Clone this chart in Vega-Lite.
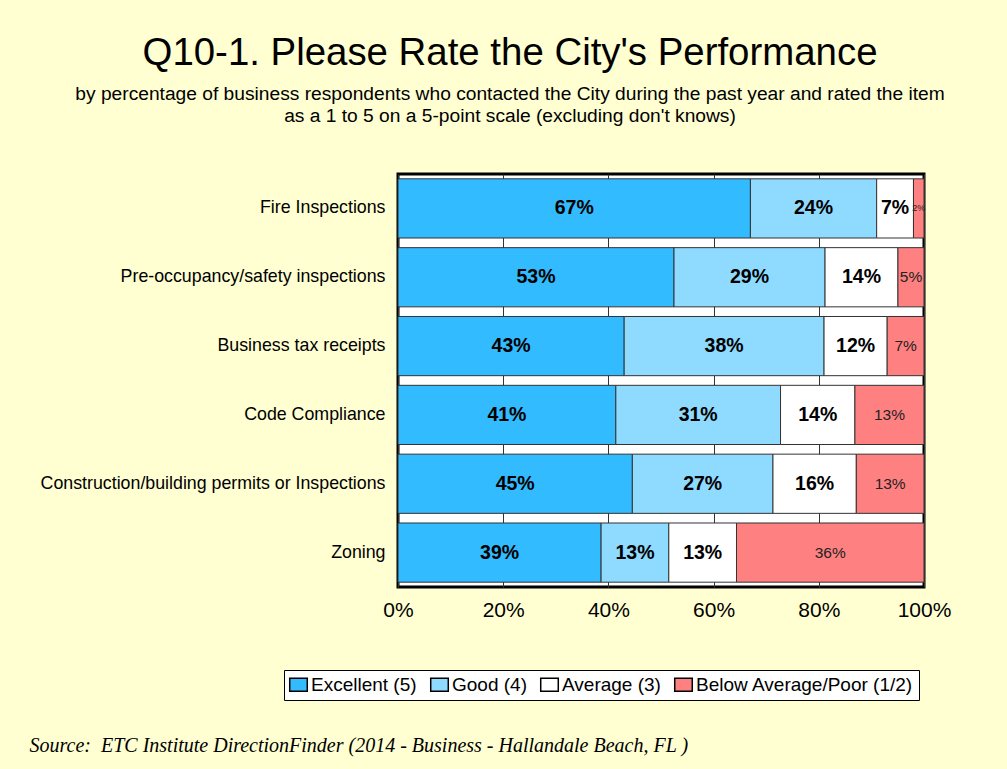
{
  "$schema": "https://vega.github.io/schema/vega-lite/v6.json",
  "width": 526,
  "height": 413,
  "autosize": {"type": "none"},
  "padding": {"left": 398, "top": 174, "right": 83, "bottom": 182},
  "background": "#ffffd2",
  "title": {
    "text": "Q10-1. Please Rate the City's Performance",
    "subtitle": ["by percentage of business respondents who contacted the City during the past year and rated the item", "as a 1 to 5 on a 5-point scale (excluding don't knows)"],
    "anchor": "middle",
    "frame": "group",
    "dx": -151,
    "font": "Liberation Sans",
    "fontSize": 38.4,
    "fontWeight": "normal",
    "color": "#000000",
    "subtitleFont": "Liberation Sans",
    "subtitleFontSize": 19.2,
    "subtitleColor": "#000000",
    "subtitleLineHeight": 22,
    "subtitlePadding": 11,
    "offset": 47
  },
  "data": {
    "values": [
      {"item": "Fire Inspections", "rating": "Excellent (5)", "order": 1, "pct": 67},
      {"item": "Fire Inspections", "rating": "Good (4)", "order": 2, "pct": 24},
      {"item": "Fire Inspections", "rating": "Average (3)", "order": 3, "pct": 7},
      {"item": "Fire Inspections", "rating": "Below Average/Poor (1/2)", "order": 4, "pct": 2},
      {"item": "Pre-occupancy/safety inspections", "rating": "Excellent (5)", "order": 1, "pct": 53},
      {"item": "Pre-occupancy/safety inspections", "rating": "Good (4)", "order": 2, "pct": 29},
      {"item": "Pre-occupancy/safety inspections", "rating": "Average (3)", "order": 3, "pct": 14},
      {"item": "Pre-occupancy/safety inspections", "rating": "Below Average/Poor (1/2)", "order": 4, "pct": 5},
      {"item": "Business tax receipts", "rating": "Excellent (5)", "order": 1, "pct": 43},
      {"item": "Business tax receipts", "rating": "Good (4)", "order": 2, "pct": 38},
      {"item": "Business tax receipts", "rating": "Average (3)", "order": 3, "pct": 12},
      {"item": "Business tax receipts", "rating": "Below Average/Poor (1/2)", "order": 4, "pct": 7},
      {"item": "Code Compliance", "rating": "Excellent (5)", "order": 1, "pct": 41},
      {"item": "Code Compliance", "rating": "Good (4)", "order": 2, "pct": 31},
      {"item": "Code Compliance", "rating": "Average (3)", "order": 3, "pct": 14},
      {"item": "Code Compliance", "rating": "Below Average/Poor (1/2)", "order": 4, "pct": 13},
      {"item": "Construction/building permits or Inspections", "rating": "Excellent (5)", "order": 1, "pct": 45},
      {"item": "Construction/building permits or Inspections", "rating": "Good (4)", "order": 2, "pct": 27},
      {"item": "Construction/building permits or Inspections", "rating": "Average (3)", "order": 3, "pct": 16},
      {"item": "Construction/building permits or Inspections", "rating": "Below Average/Poor (1/2)", "order": 4, "pct": 13},
      {"item": "Zoning", "rating": "Excellent (5)", "order": 1, "pct": 39},
      {"item": "Zoning", "rating": "Good (4)", "order": 2, "pct": 13},
      {"item": "Zoning", "rating": "Average (3)", "order": 3, "pct": 13},
      {"item": "Zoning", "rating": "Below Average/Poor (1/2)", "order": 4, "pct": 36}
    ]
  },
  "transform": [
    {"stack": "pct", "groupby": ["item"], "sort": [{"field": "order", "order": "ascending"}], "offset": "normalize", "as": ["x0", "x1"]},
    {"calculate": "(datum.x0 + datum.x1) / 2", "as": "xm"},
    {"calculate": "datum.pct + '%'", "as": "label"}
  ],
  "encoding": {
    "y": {
      "field": "item",
      "type": "nominal",
      "sort": ["Fire Inspections", "Pre-occupancy/safety inspections", "Business tax receipts", "Code Compliance", "Construction/building permits or Inspections", "Zoning"],
      "scale": {"paddingInner": 0.14, "paddingOuter": 0.07},
      "axis": {
        "title": null,
        "domain": false,
        "ticks": false,
        "labelFont": "Liberation Sans",
        "labelFontSize": 17.8,
        "labelColor": "#000000",
        "labelPadding": 13,
        "labelLimit": 500
      }
    }
  },
  "layer": [
    {
      "mark": {"type": "bar", "stroke": "#333333", "strokeWidth": 1},
      "encoding": {
        "x": {
          "field": "x0",
          "type": "quantitative",
          "scale": {"domain": [0, 1], "nice": false},
          "axis": {
            "values": [0, 0.2, 0.4, 0.6, 0.8, 1],
            "format": ".0%",
            "domain": false,
            "ticks": false,
            "grid": true,
            "gridColor": "#333333",
            "gridWidth": 1,
            "labelFont": "Liberation Sans",
            "labelFontSize": 21,
            "labelColor": "#000000",
            "labelPadding": 12,
            "labelFlush": false,
            "title": "Source:\u00a0 ETC Institute DirectionFinder (2014 - Business - Hallandale Beach, FL )",
            "titleFont": "Liberation Serif",
            "titleFontStyle": "italic",
            "titleFontWeight": "normal",
            "titleFontSize": 20,
            "titleColor": "#000000",
            "titleAnchor": "start",
            "titleAlign": "left",
            "titleBaseline": "alphabetic",
            "titleX": -369,
            "titleY": 164
          }
        },
        "x2": {"field": "x1"},
        "color": {
          "field": "rating",
          "type": "nominal",
          "scale": {
            "domain": ["Excellent (5)", "Good (4)", "Average (3)", "Below Average/Poor (1/2)"],
            "range": ["#33bbff", "#8fdaff", "#ffffff", "#ff8080"]
          },
          "legend": {
            "title": null,
            "orient": "none",
            "direction": "horizontal",
            "legendX": -114,
            "legendY": 496,
            "symbolType": "M-1.35,-1H1.35V1H-1.35Z",
            "symbolSize": 169,
            "symbolStrokeColor": "#000000",
            "symbolStrokeWidth": 1.5,
            "labelFont": "Liberation Sans",
            "labelFontSize": 19,
            "labelColor": "#000000",
            "labelOffset": 3,
            "columnPadding": 10,
            "labelLimit": 400,
            "strokeColor": "#000000",
            "fillColor": "#ffffff",
            "padding": 5
          }
        }
      }
    },
    {
      "transform": [{"filter": "datum.order < 4"}],
      "mark": {"type": "text", "font": "Liberation Sans", "fontSize": 19.5, "fontWeight": "bold", "color": "#000000"},
      "encoding": {
        "x": {"field": "xm", "type": "quantitative"},
        "text": {"field": "label"}
      }
    },
    {
      "transform": [{"filter": "datum.order == 4"}],
      "mark": {"type": "text", "font": "Liberation Sans", "fontWeight": "normal", "color": "#222222"},
      "encoding": {
        "x": {"field": "xm", "type": "quantitative"},
        "text": {"field": "label"},
        "size": {"condition": {"test": "datum.pct < 3", "value": 9}, "value": 15.5}
      }
    }
  ],
  "config": {
    "view": {"stroke": "#000000", "strokeWidth": 3, "fill": "#ffffff"}
  }
}
